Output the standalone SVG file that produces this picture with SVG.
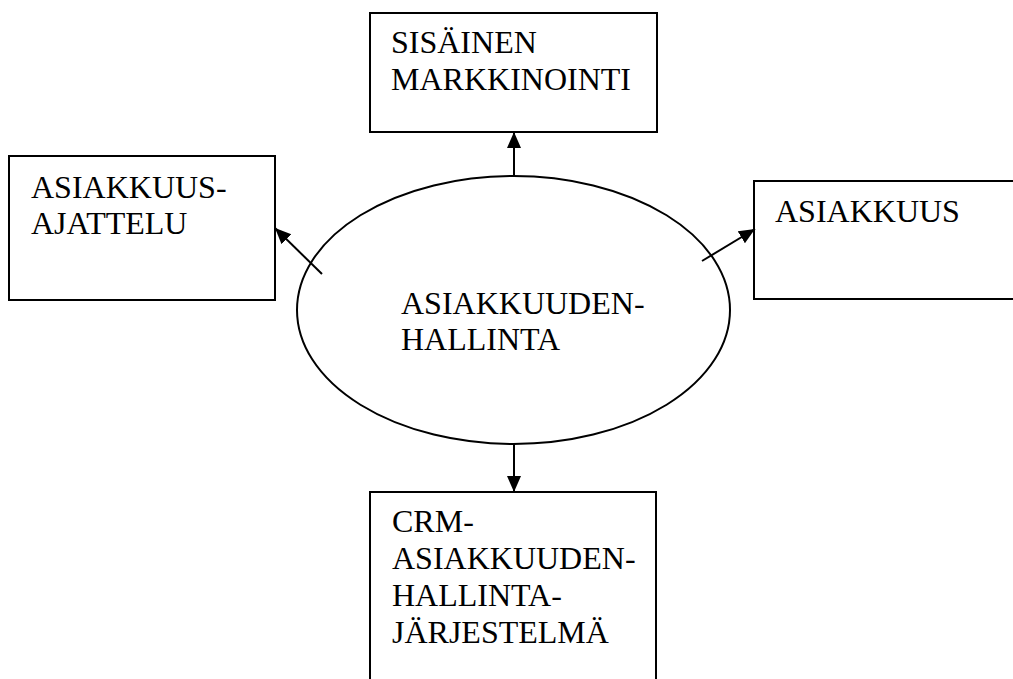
<svg xmlns="http://www.w3.org/2000/svg" width="1013" height="679" viewBox="0 0 1013 679">
<style>
.box{fill:#fff;stroke:#000;stroke-width:2}
.lbl{font-family:"Liberation Serif","Times New Roman",serif;font-size:32px;fill:#000}
.con{stroke:#000;stroke-width:2;fill:none}
</style>
<defs>
<marker id="ah" markerUnits="userSpaceOnUse" markerWidth="18" markerHeight="16" refX="16" refY="7" orient="auto">
<path d="M0,0 L16,7 L0,14 z" fill="#000"/>
</marker>
</defs>
<rect width="1013" height="679" fill="#fff"/>
<g id="n-sisainen">
<rect class="box" x="370" y="13" width="287" height="119"/>
<text class="lbl" x="391" y="53">SISÄINEN</text>
<text class="lbl" x="391" y="90">MARKKINOINTI</text>
</g>
<g id="n-ajattelu">
<rect class="box" x="9" y="156" width="266" height="144"/>
<text class="lbl" x="31" y="198">ASIAKKUUS-</text>
<text class="lbl" x="31" y="234">AJATTELU</text>
</g>
<g id="n-asiakkuus">
<rect class="box" x="754" y="181" width="270" height="118"/>
<text class="lbl" x="775" y="222">ASIAKKUUS</text>
</g>
<g id="n-crm">
<rect class="box" x="370" y="492" width="286" height="200"/>
<text class="lbl" x="392" y="532">CRM-</text>
<text class="lbl" x="392" y="569">ASIAKKUUDEN-</text>
<text class="lbl" x="392" y="606">HALLINTA-</text>
<text class="lbl" x="392" y="643">JÄRJESTELMÄ</text>
</g>
<g id="n-hallinta">
<ellipse class="box" cx="513.5" cy="310" rx="216.5" ry="134"/>
<text class="lbl" x="401" y="314">ASIAKKUUDEN-</text>
<text class="lbl" x="401" y="350">HALLINTA</text>
</g>
<g id="connectors">
<line class="con" x1="514" y1="176" x2="514" y2="132" marker-end="url(#ah)"/>
<line class="con" x1="322" y1="274" x2="275" y2="228" marker-end="url(#ah)"/>
<line class="con" x1="702" y1="261" x2="755" y2="229" marker-end="url(#ah)"/>
<line class="con" x1="514" y1="444" x2="514" y2="492" marker-end="url(#ah)"/>
</g>
</svg>
